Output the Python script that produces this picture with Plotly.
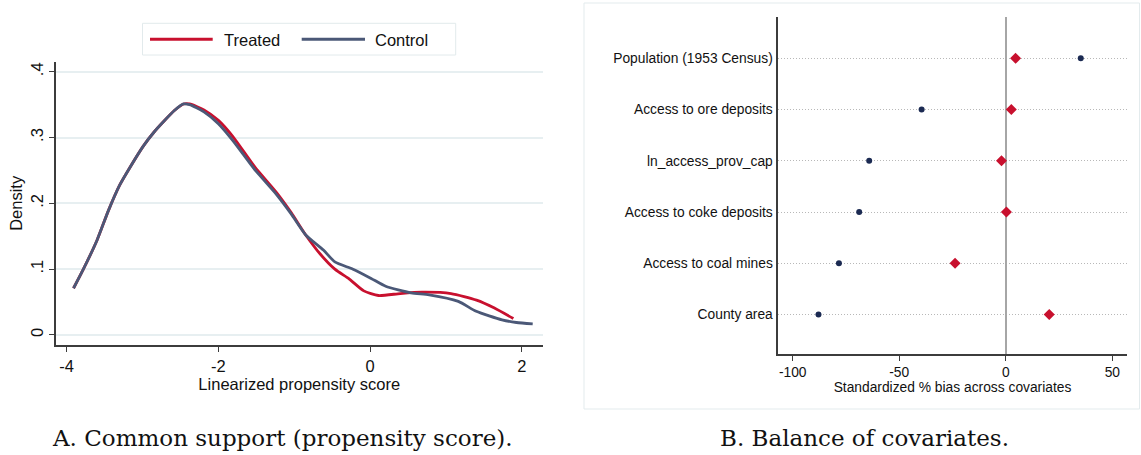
import plotly.graph_objects as go

# ---------------- Data (panel A: kernel densities) ----------------
treated_x = [-3.91, -3.78, -3.60, -3.45, -3.30, -3.19, -2.99, -2.85, -2.716, -2.58, -2.46, -2.38,
             -2.19, -2.0, -1.806, -1.518, -1.23, -1.04, -0.848, -0.657, -0.464, -0.273, -0.082,
             0.11, 0.398, 0.685, 1.068, 1.404, 1.64, 1.89]
treated_y = [0.071, 0.100, 0.144, 0.189, 0.228, 0.250, 0.287, 0.308, 0.325, 0.341, 0.351, 0.351,
             0.342, 0.326, 0.301, 0.255, 0.216, 0.186, 0.152, 0.123, 0.100, 0.085, 0.067,
             0.060, 0.063, 0.065, 0.063, 0.053, 0.041, 0.025]

control_x = [-3.91, -3.78, -3.60, -3.45, -3.30, -3.19, -2.99, -2.85, -2.716, -2.58, -2.46, -2.38,
             -2.19, -2.0, -1.806, -1.518, -1.23, -1.04, -0.848, -0.615, -0.464, -0.225, 0.014,
             0.206, 0.541, 0.78, 1.164, 1.40, 1.74, 1.93, 2.145]
control_y = [0.071, 0.100, 0.144, 0.189, 0.228, 0.250, 0.287, 0.308, 0.325, 0.341, 0.351, 0.350,
             0.339, 0.321, 0.295, 0.251, 0.213, 0.184, 0.152, 0.129, 0.111, 0.100, 0.086,
             0.074, 0.064, 0.061, 0.051, 0.036, 0.023, 0.019, 0.017]

density_ticks = [0, 0.1, 0.2, 0.3, 0.4]
density_ticklabels = ["0", ".1", ".2", ".3", ".4"]
score_ticks = [-4, -2, 0, 2]
score_ticklabels = ["-4", "-2", "0", "2"]

# ---------------- Data (panel B: standardized bias) ----------------
covariates = ["Population (1953 Census)", "Access to ore deposits", "ln_access_prov_cap",
              "Access to coke deposits", "Access to coal mines", "County area"]
bias_unmatched = [35.2, -39.5, -64.1, -68.8, -78.3, -87.9]
bias_matched = [4.6, 2.6, -2.0, 0.3, -23.8, 20.4]
bias_ticks = [-100, -50, 0, 50]
bias_ticklabels = ["-100", "-50", "0", "50"]

# ---------------- Styles ----------------
W, H = 1141, 455
RED = "#c8102e"
SLATE = "#4b5877"
NAVY = "#1b2a52"
AXIS = "#3c3c3c"
TXT = "#111111"
FONT = "Liberation Sans, Arial, sans-serif"
SERIF = "DejaVu Serif, serif"


def px_x(v):
    return v / W


def px_y(v):
    return 1 - v / H


fig = go.Figure()

fig.add_trace(go.Scatter(x=treated_x, y=treated_y, mode="lines", name="Treated",
                         line=dict(color=RED, width=2.8, shape="spline", smoothing=0.6),
                         xaxis="x", yaxis="y", showlegend=False))
fig.add_trace(go.Scatter(x=control_x, y=control_y, mode="lines", name="Control",
                         line=dict(color=SLATE, width=2.8, shape="spline", smoothing=0.6),
                         xaxis="x", yaxis="y", showlegend=False))

fig.add_trace(go.Scatter(x=bias_unmatched, y=covariates, mode="markers", name="Unmatched",
                         marker=dict(color=NAVY, size=6, symbol="circle"),
                         xaxis="x2", yaxis="y2", showlegend=False))
fig.add_trace(go.Scatter(x=bias_matched, y=covariates, mode="markers", name="Matched",
                         marker=dict(color=RED, size=8.5, symbol="diamond"),
                         xaxis="x2", yaxis="y2", showlegend=False))

tickfont = dict(family=FONT, size=16.5, color=TXT)
tickfont2 = dict(family=FONT, size=13.8, color=TXT)

fig.update_layout(
    width=W, height=H,
    margin=dict(l=0, r=0, t=0, b=0),
    paper_bgcolor="white", plot_bgcolor="white",
    font=dict(family=FONT, color=TXT),
    xaxis=dict(domain=[px_x(55.7), px_x(542.8)], range=[-4.145, 2.278],
               tickvals=score_ticks, ticktext=score_ticklabels,
               ticks="outside", ticklen=5, tickwidth=1.3, tickcolor=AXIS,
               showline=True, linecolor=AXIS, linewidth=1.5, showgrid=False, zeroline=False,
               tickfont=tickfont, anchor="y",
               title=dict(text="Linearized propensity score", font=tickfont, standoff=2)),
    yaxis=dict(domain=[px_y(345), px_y(61.7)], range=[-0.0152, 0.4152],
               tickvals=density_ticks, ticktext=density_ticklabels, tickangle=-90,
               ticks="outside", ticklen=5, tickwidth=1.3, tickcolor=AXIS,
               showline=True, linecolor=AXIS, linewidth=1.5,
               showgrid=True, gridcolor="#e7eff1", gridwidth=1.5, zeroline=False,
               tickfont=tickfont, anchor="x", ticklabelstandoff=-1,
               title=dict(text="Density", font=tickfont, standoff=2)),
    xaxis2=dict(domain=[px_x(778.3), px_x(1126.7)], range=[-106.76, 56.76],
                tickvals=bias_ticks, ticktext=bias_ticklabels,
                ticks="outside", ticklen=5, tickwidth=1.3, tickcolor=AXIS,
                showline=True, linecolor=AXIS, linewidth=1.5, showgrid=False,
                zeroline=True, zerolinecolor="#a6a6a6", zerolinewidth=1.6,
                tickfont=tickfont2, anchor="y2",
                title=dict(text="Standardized % bias across covariates", font=tickfont2, standoff=0)),
    yaxis2=dict(domain=[px_y(354), px_y(17.3)], type="category",
                categoryorder="array", categoryarray=covariates[::-1], range=[-0.77, 5.8],
                ticks="", showline=True, linecolor=AXIS, linewidth=1.5,
                showgrid=True, gridcolor="#b8b8b8", gridwidth=1, griddash="1px,2px",
                zeroline=False, tickfont=tickfont2, anchor="x2", ticklabelstandoff=1),
)

shapes = []
annotations = []

# Legend for panel A (box, line samples, labels)
shapes.append(dict(type="rect", xref="paper", yref="paper",
                   x0=px_x(142.5), x1=px_x(455.7), y0=px_y(55), y1=px_y(23.3),
                   line=dict(color="#e2eaec", width=1), fillcolor="white", layer="below"))
legend_items = [("Treated", RED, 150, 212.7, 221.7), ("Control", SLATE, 301.7, 365, 373)]
for name, col, l0, l1, tx in legend_items:
    shapes.append(dict(type="line", xref="paper", yref="paper",
                       x0=px_x(l0), x1=px_x(l1), y0=px_y(39.3), y1=px_y(39.3),
                       line=dict(color=col, width=3)))
    annotations.append(dict(text=name, xref="paper", yref="paper", x=px_x(tx), y=px_y(39.8),
                            xanchor="left", yanchor="middle", showarrow=False,
                            font=dict(family=FONT, size=16.5, color=TXT)))

# Frame around panel B
shapes.append(dict(type="rect", xref="paper", yref="paper",
                   x0=px_x(584), x1=px_x(1139.5), y0=px_y(409), y1=px_y(3),
                   line=dict(color="#e3ebed", width=1), layer="below"))

# Captions
annotations.append(dict(text="A. Common support (propensity score).", xref="paper", yref="paper",
                        x=px_x(50), y=px_y(438), xanchor="left", yanchor="middle", showarrow=False,
                        font=dict(family=SERIF, size=23, color=TXT)))
annotations.append(dict(text="B. Balance of covariates.", xref="paper", yref="paper",
                        x=px_x(718), y=px_y(438), xanchor="left", yanchor="middle", showarrow=False,
                        font=dict(family=SERIF, size=23, color=TXT)))

fig.update_layout(shapes=shapes, annotations=annotations)

fig.write_html("out.html")
